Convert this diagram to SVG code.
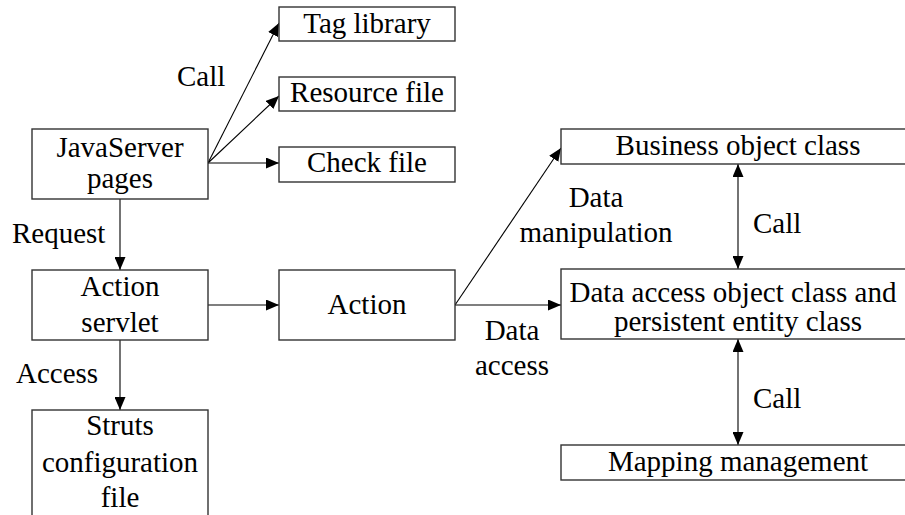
<svg xmlns="http://www.w3.org/2000/svg" width="905" height="515" viewBox="0 0 905 515">
<style>
.box{fill:#fff;stroke:#333;stroke-width:1.4}
.ln{stroke:#000;stroke-width:1.1;fill:none;marker-end:url(#ah)}
.bi{marker-start:url(#ah2)}
.c{text-anchor:middle}
</style>
<defs>
<marker id="ah" markerUnits="userSpaceOnUse" markerWidth="13" markerHeight="11" refX="13" refY="5.5" orient="auto"><path d="M0,0 L13,5.5 L0,11 z" fill="#000"/></marker>
<marker id="ah2" markerUnits="userSpaceOnUse" markerWidth="13" markerHeight="11" refX="0" refY="5.5" orient="auto"><path d="M13,0 L0,5.5 L13,11 z" fill="#000"/></marker>
</defs>
<rect width="905" height="515" fill="#fff"/>
<g id="connectors">
<line class="ln" x1="208" y1="163" x2="279" y2="23"/>
<line class="ln" x1="208" y1="163" x2="279" y2="96"/>
<line class="ln" x1="208" y1="163" x2="279" y2="163"/>
<line class="ln" x1="120" y1="199" x2="120" y2="270"/>
<line class="ln" x1="120" y1="340" x2="120" y2="410"/>
<line class="ln" x1="208" y1="305" x2="279" y2="305"/>
<line class="ln" x1="455" y1="305" x2="561" y2="148"/>
<line class="ln" x1="455" y1="305" x2="561" y2="305"/>
<line class="ln bi" x1="738" y1="164" x2="738" y2="269"/>
<line class="ln bi" x1="738" y1="339" x2="738" y2="445"/>
</g>
<g id="labels" font-family="Liberation Serif, Tinos, Times New Roman, serif" font-size="29" fill="#000">
<text x="177" y="86">Call</text>
<text x="12" y="243">Request</text>
<text x="16" y="383">Access</text>
<text class="c" x="596" y="207">Data</text>
<text class="c" x="596" y="242">manipulation</text>
<text class="c" x="512" y="340">Data</text>
<text class="c" x="512" y="375">access</text>
<text x="753" y="233">Call</text>
<text x="753" y="408">Call</text>
</g>
<g font-family="Liberation Serif, Tinos, Times New Roman, serif" font-size="29" fill="#000">
<g id="jsp"><rect class="box" x="32" y="129" width="176" height="70"/><text class="c" x="120" y="157">JavaServer</text><text class="c" x="120" y="188">pages</text></g>
<g id="taglib"><rect class="box" x="279" y="7" width="176" height="34"/><text class="c" x="367" y="33">Tag library</text></g>
<g id="resource"><rect class="box" x="279" y="77" width="176" height="34"/><text class="c" x="367" y="102">Resource file</text></g>
<g id="check"><rect class="box" x="279" y="147" width="176" height="35"/><text class="c" x="367" y="172">Check file</text></g>
<g id="servlet"><rect class="box" x="32" y="270" width="176" height="70"/><text class="c" x="120" y="296">Action</text><text class="c" x="120" y="332">servlet</text></g>
<g id="struts"><rect class="box" x="32" y="410" width="176" height="115"/><text class="c" x="120" y="435">Struts</text><text class="c" x="120" y="472">configuration</text><text class="c" x="120" y="507">file</text></g>
<g id="action"><rect class="box" x="279" y="270" width="176" height="70"/><text class="c" x="367" y="314">Action</text></g>
<g id="business"><rect class="box" x="561" y="129" width="354" height="35"/><text class="c" x="738" y="155">Business object class</text></g>
<g id="dao"><rect class="box" x="561" y="269" width="354" height="70"/><text class="c" x="733" y="302">Data access object class and</text><text class="c" x="738" y="331">persistent entity class</text></g>
<g id="mapping"><rect class="box" x="561" y="445" width="354" height="35"/><text class="c" x="738" y="471">Mapping management</text></g>
</g>
</svg>
